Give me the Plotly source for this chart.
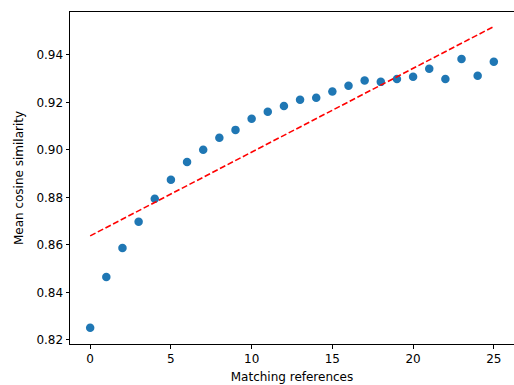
import plotly.graph_objects as go

# Data
matching_refs = list(range(26))
mean_cos_sim = [0.8251, 0.8465, 0.8587, 0.8697, 0.8794, 0.8874, 0.8949, 0.9000,
                0.9051, 0.9084, 0.9131, 0.9160, 0.9184, 0.9211, 0.9219, 0.9245,
                0.9270, 0.9292, 0.9286, 0.9298, 0.9308, 0.9341, 0.9298, 0.9382,
                0.9312, 0.9371]
trend_x = [0, 25]
trend_y = [0.8638, 0.9519]

x_ticks = [0, 5, 10, 15, 20, 25]
y_ticks = [0.82, 0.84, 0.86, 0.88, 0.90, 0.92, 0.94]
y_tick_labels = ["0.82", "0.84", "0.86", "0.88", "0.90", "0.92", "0.94"]

fig = go.Figure()
fig.add_trace(go.Scatter(
    x=matching_refs, y=mean_cos_sim, mode="markers",
    marker=dict(color="#1f77b4", size=8.5, line=dict(width=0)),
    showlegend=False,
))
fig.add_trace(go.Scatter(
    x=trend_x, y=trend_y, mode="lines",
    line=dict(color="red", width=1.6, dash="6px,2.6px"),
    showlegend=False,
))

font = dict(family="DejaVu Sans", size=12, color="black")
fig.update_layout(
    width=514, height=385,
    margin=dict(l=70, r=0, t=12, b=41, autoexpand=False),
    paper_bgcolor="white", plot_bgcolor="white",
    font=font,
    xaxis=dict(
        range=[-1.25, 26.25], tickvals=x_ticks, ticks="outside", ticklen=3.5,
        tickwidth=1, tickcolor="black", showline=True, linecolor="black",
        linewidth=1, mirror=True, showgrid=False, zeroline=False,
        title=dict(text="Matching references", font=font, standoff=7),
        tickfont=font, automargin=False,
    ),
    yaxis=dict(
        range=[0.8183, 0.958], tickvals=y_ticks, ticktext=y_tick_labels,
        ticks="outside", ticklen=3.5, tickwidth=1, tickcolor="black",
        showline=True, linecolor="black", linewidth=1, mirror=False,
        showgrid=False, zeroline=False,
        title=dict(text="Mean cosine similarity", font=font, standoff=10),
        tickfont=font, automargin=False,
    ),
)

# Remove the default page margin so the 514x385 figure fills the window exactly
page_css = ("document.body.style.margin='0';"
            "document.body.style.overflow='hidden';"
            "document.documentElement.style.overflow='hidden';")
fig.write_html("out.html", post_script=page_css,
               config={"displayModeBar": False, "staticPlot": True})
